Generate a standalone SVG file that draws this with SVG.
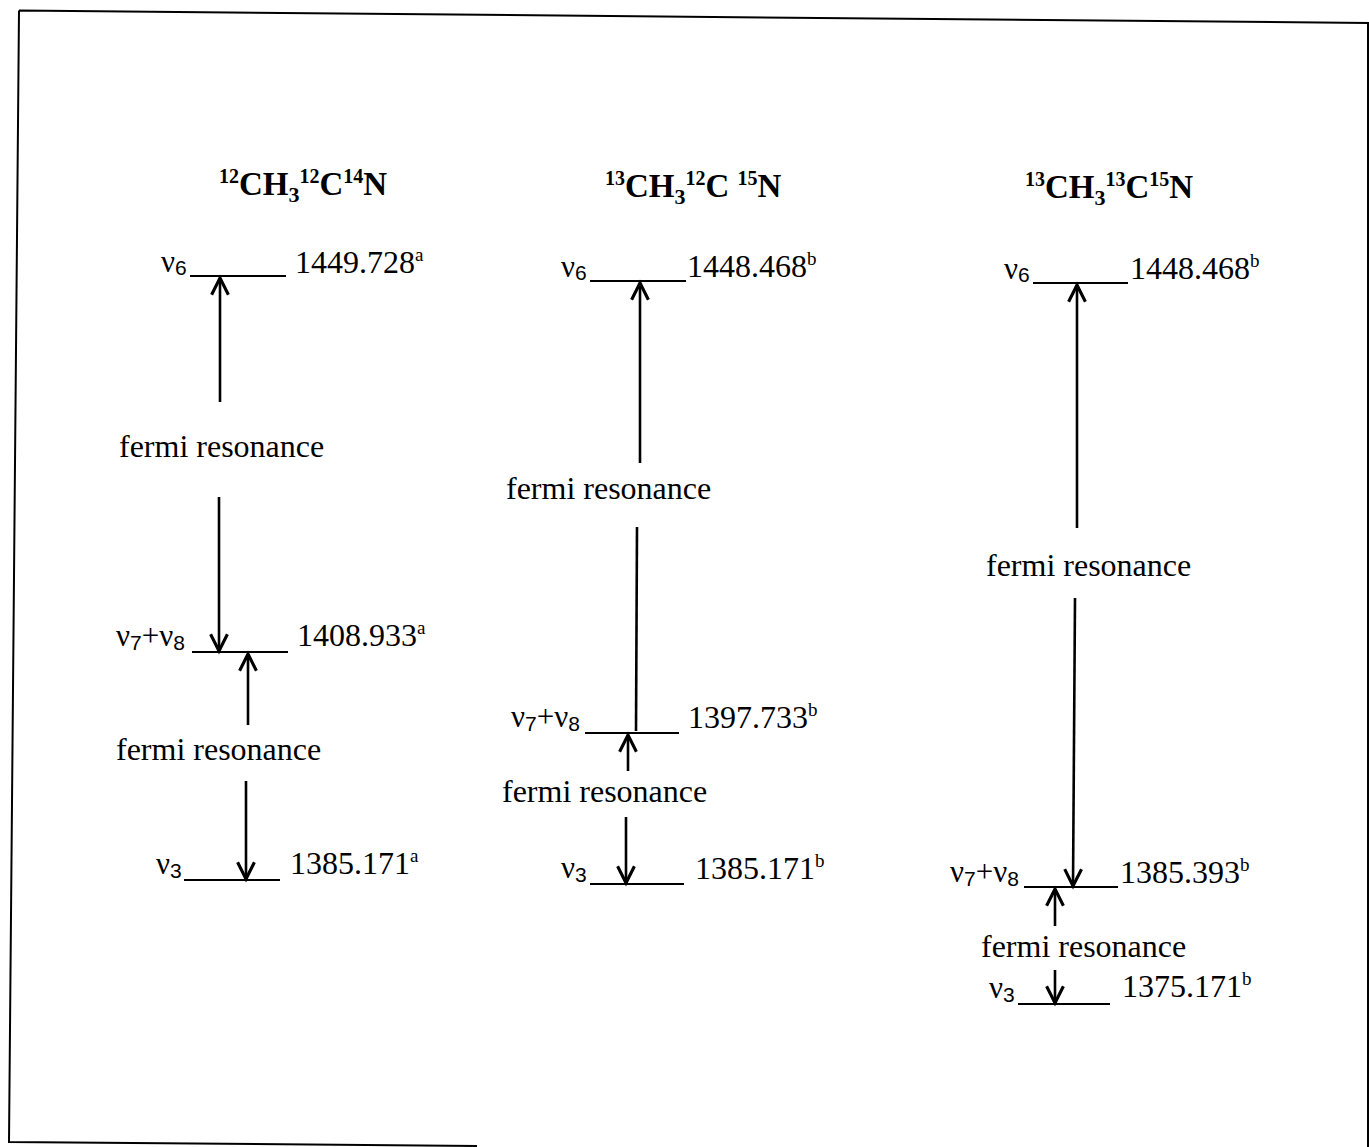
<svg xmlns="http://www.w3.org/2000/svg" width="1369" height="1147" viewBox="0 0 1369 1147">
<style>
  text { font-family: "Liberation Serif", "Times New Roman", serif; fill: #000; }
  .title { font-size: 33px; font-weight: bold; }
  .tsup { font-size: 20px; }
  .tsub { font-size: 22px; }
  .val { font-size: 32px; }
  .vsup { font-size: 19px; }
  .lab { font-size: 31px; }
  .lsub { font-size: 21px; font-family: "Liberation Sans", Arial, sans-serif; }
  .fr { font-size: 32px; }
  .level { stroke: #000; stroke-width: 2.2; fill: none; }
  .arrow { stroke: #000; stroke-width: 2.6; fill: none; }
  .border { stroke: #000; stroke-width: 2; fill: none; }
</style>
<defs>
  <marker id="head" markerUnits="userSpaceOnUse" markerWidth="24" markerHeight="24" viewBox="-16 -10 20 20" refX="0" refY="0" orient="auto">
    <path d="M-14,-7 L0,0 L-14,7" fill="none" stroke="#000" stroke-width="2.6"/>
  </marker>
</defs>
<rect width="1369" height="1147" fill="#fff"/>
<g id="frame">
  <path class="border" d="M19,10.5 L1369,23 M19,10.5 L9,1142 L477,1146 M1368,23 L1368,1147"/>
</g>

<!-- Column 1 -->
<g id="title1">
  <text class="title" x="219" y="195"><tspan class="tsup" dy="-12">12</tspan><tspan dy="12">CH</tspan><tspan class="tsub" dy="7">3</tspan><tspan class="tsup" dy="-19">12</tspan><tspan dy="12">C</tspan><tspan class="tsup" dy="-12">14</tspan><tspan dy="12">N</tspan></text>
</g>
<g id="c1-v6">
  <line class="level" x1="190" y1="276" x2="286" y2="276"/>
  <text class="lab" x="161" y="272">ν<tspan class="lsub" dy="3">6</tspan></text>
  <text class="val" x="295" y="273">1449.728<tspan class="vsup" dy="-12">a</tspan></text>
</g>
<g id="c1-v78">
  <line class="level" x1="192" y1="652" x2="288" y2="652"/>
  <text class="lab" x="116" y="646">ν<tspan class="lsub" dy="4">7</tspan><tspan dy="-4">+ν</tspan><tspan class="lsub" dy="4">8</tspan></text>
  <text class="val" x="297" y="646">1408.933<tspan class="vsup" dy="-12">a</tspan></text>
</g>
<g id="c1-v3">
  <line class="level" x1="184" y1="880" x2="280" y2="880"/>
  <text class="lab" x="156" y="874">ν<tspan class="lsub" dy="4">3</tspan></text>
  <text class="val" x="290" y="874">1385.171<tspan class="vsup" dy="-12">a</tspan></text>
</g>
<g id="c1-fr1"><text class="fr" x="119" y="457">fermi resonance</text></g>
<g id="c1-fr2"><text class="fr" x="116" y="760">fermi resonance</text></g>

<!-- Column 2 -->
<g id="title2">
  <text class="title" x="605" y="197"><tspan class="tsup" dy="-12">13</tspan><tspan dy="12">CH</tspan><tspan class="tsub" dy="7">3</tspan><tspan class="tsup" dy="-19">12</tspan><tspan dy="12">C </tspan><tspan class="tsup" dy="-12">15</tspan><tspan dy="12">N</tspan></text>
</g>
<g id="c2-v6">
  <line class="level" x1="590" y1="281" x2="686" y2="281"/>
  <text class="lab" x="561" y="277">ν<tspan class="lsub" dy="3">6</tspan></text>
  <text class="val" x="687" y="277">1448.468<tspan class="vsup" dy="-12">b</tspan></text>
</g>
<g id="c2-v78">
  <line class="level" x1="585" y1="733" x2="679" y2="733"/>
  <text class="lab" x="511" y="727">ν<tspan class="lsub" dy="4">7</tspan><tspan dy="-4">+ν</tspan><tspan class="lsub" dy="4">8</tspan></text>
  <text class="val" x="688" y="728">1397.733<tspan class="vsup" dy="-12">b</tspan></text>
</g>
<g id="c2-v3">
  <line class="level" x1="590" y1="884" x2="684" y2="884"/>
  <text class="lab" x="561" y="878">ν<tspan class="lsub" dy="4">3</tspan></text>
  <text class="val" x="695" y="879">1385.171<tspan class="vsup" dy="-12">b</tspan></text>
</g>
<g id="c2-fr1"><text class="fr" x="506" y="499">fermi resonance</text></g>
<g id="c2-fr2"><text class="fr" x="502" y="802">fermi resonance</text></g>

<!-- Column 3 -->
<g id="title3">
  <text class="title" x="1025" y="198"><tspan class="tsup" dy="-12">13</tspan><tspan dy="12">CH</tspan><tspan class="tsub" dy="7">3</tspan><tspan class="tsup" dy="-19">13</tspan><tspan dy="12">C</tspan><tspan class="tsup" dy="-12">15</tspan><tspan dy="12">N</tspan></text>
</g>
<g id="c3-v6">
  <line class="level" x1="1033" y1="283" x2="1128" y2="283"/>
  <text class="lab" x="1004" y="279">ν<tspan class="lsub" dy="3">6</tspan></text>
  <text class="val" x="1130" y="279">1448.468<tspan class="vsup" dy="-12">b</tspan></text>
</g>
<g id="c3-v78">
  <line class="level" x1="1024" y1="887" x2="1118" y2="887"/>
  <text class="lab" x="950" y="882">ν<tspan class="lsub" dy="4">7</tspan><tspan dy="-4">+ν</tspan><tspan class="lsub" dy="4">8</tspan></text>
  <text class="val" x="1120" y="883">1385.393<tspan class="vsup" dy="-12">b</tspan></text>
</g>
<g id="c3-v3">
  <line class="level" x1="1018" y1="1004" x2="1110" y2="1004"/>
  <text class="lab" x="989" y="998">ν<tspan class="lsub" dy="4">3</tspan></text>
  <text class="val" x="1122" y="997">1375.171<tspan class="vsup" dy="-12">b</tspan></text>
</g>
<g id="c3-fr1"><text class="fr" x="986" y="576">fermi resonance</text></g>
<g id="c3-fr2"><text class="fr" x="981" y="957">fermi resonance</text></g>

<!-- Connectors -->
<g id="connectors">
  <line class="arrow" x1="220" y1="402" x2="220" y2="278" marker-end="url(#head)"/>
  <line class="arrow" x1="219" y1="497" x2="219" y2="651" marker-end="url(#head)"/>
  <line class="arrow" x1="248" y1="725" x2="248" y2="654" marker-end="url(#head)"/>
  <line class="arrow" x1="246" y1="781" x2="246" y2="879" marker-end="url(#head)"/>

  <line class="arrow" x1="640" y1="463" x2="640" y2="283" marker-end="url(#head)"/>
  <line class="arrow" x1="637" y1="527" x2="636" y2="731"/>
  <line class="arrow" x1="628" y1="771" x2="628" y2="735" marker-end="url(#head)"/>
  <line class="arrow" x1="626" y1="817" x2="626" y2="883" marker-end="url(#head)"/>

  <line class="arrow" x1="1077" y1="528" x2="1077" y2="285" marker-end="url(#head)"/>
  <line class="arrow" x1="1075" y1="598" x2="1073" y2="886" marker-end="url(#head)"/>
  <line class="arrow" x1="1055" y1="926" x2="1055" y2="889" marker-end="url(#head)"/>
  <line class="arrow" x1="1055" y1="970" x2="1055" y2="1003" marker-end="url(#head)"/>
</g>
</svg>
